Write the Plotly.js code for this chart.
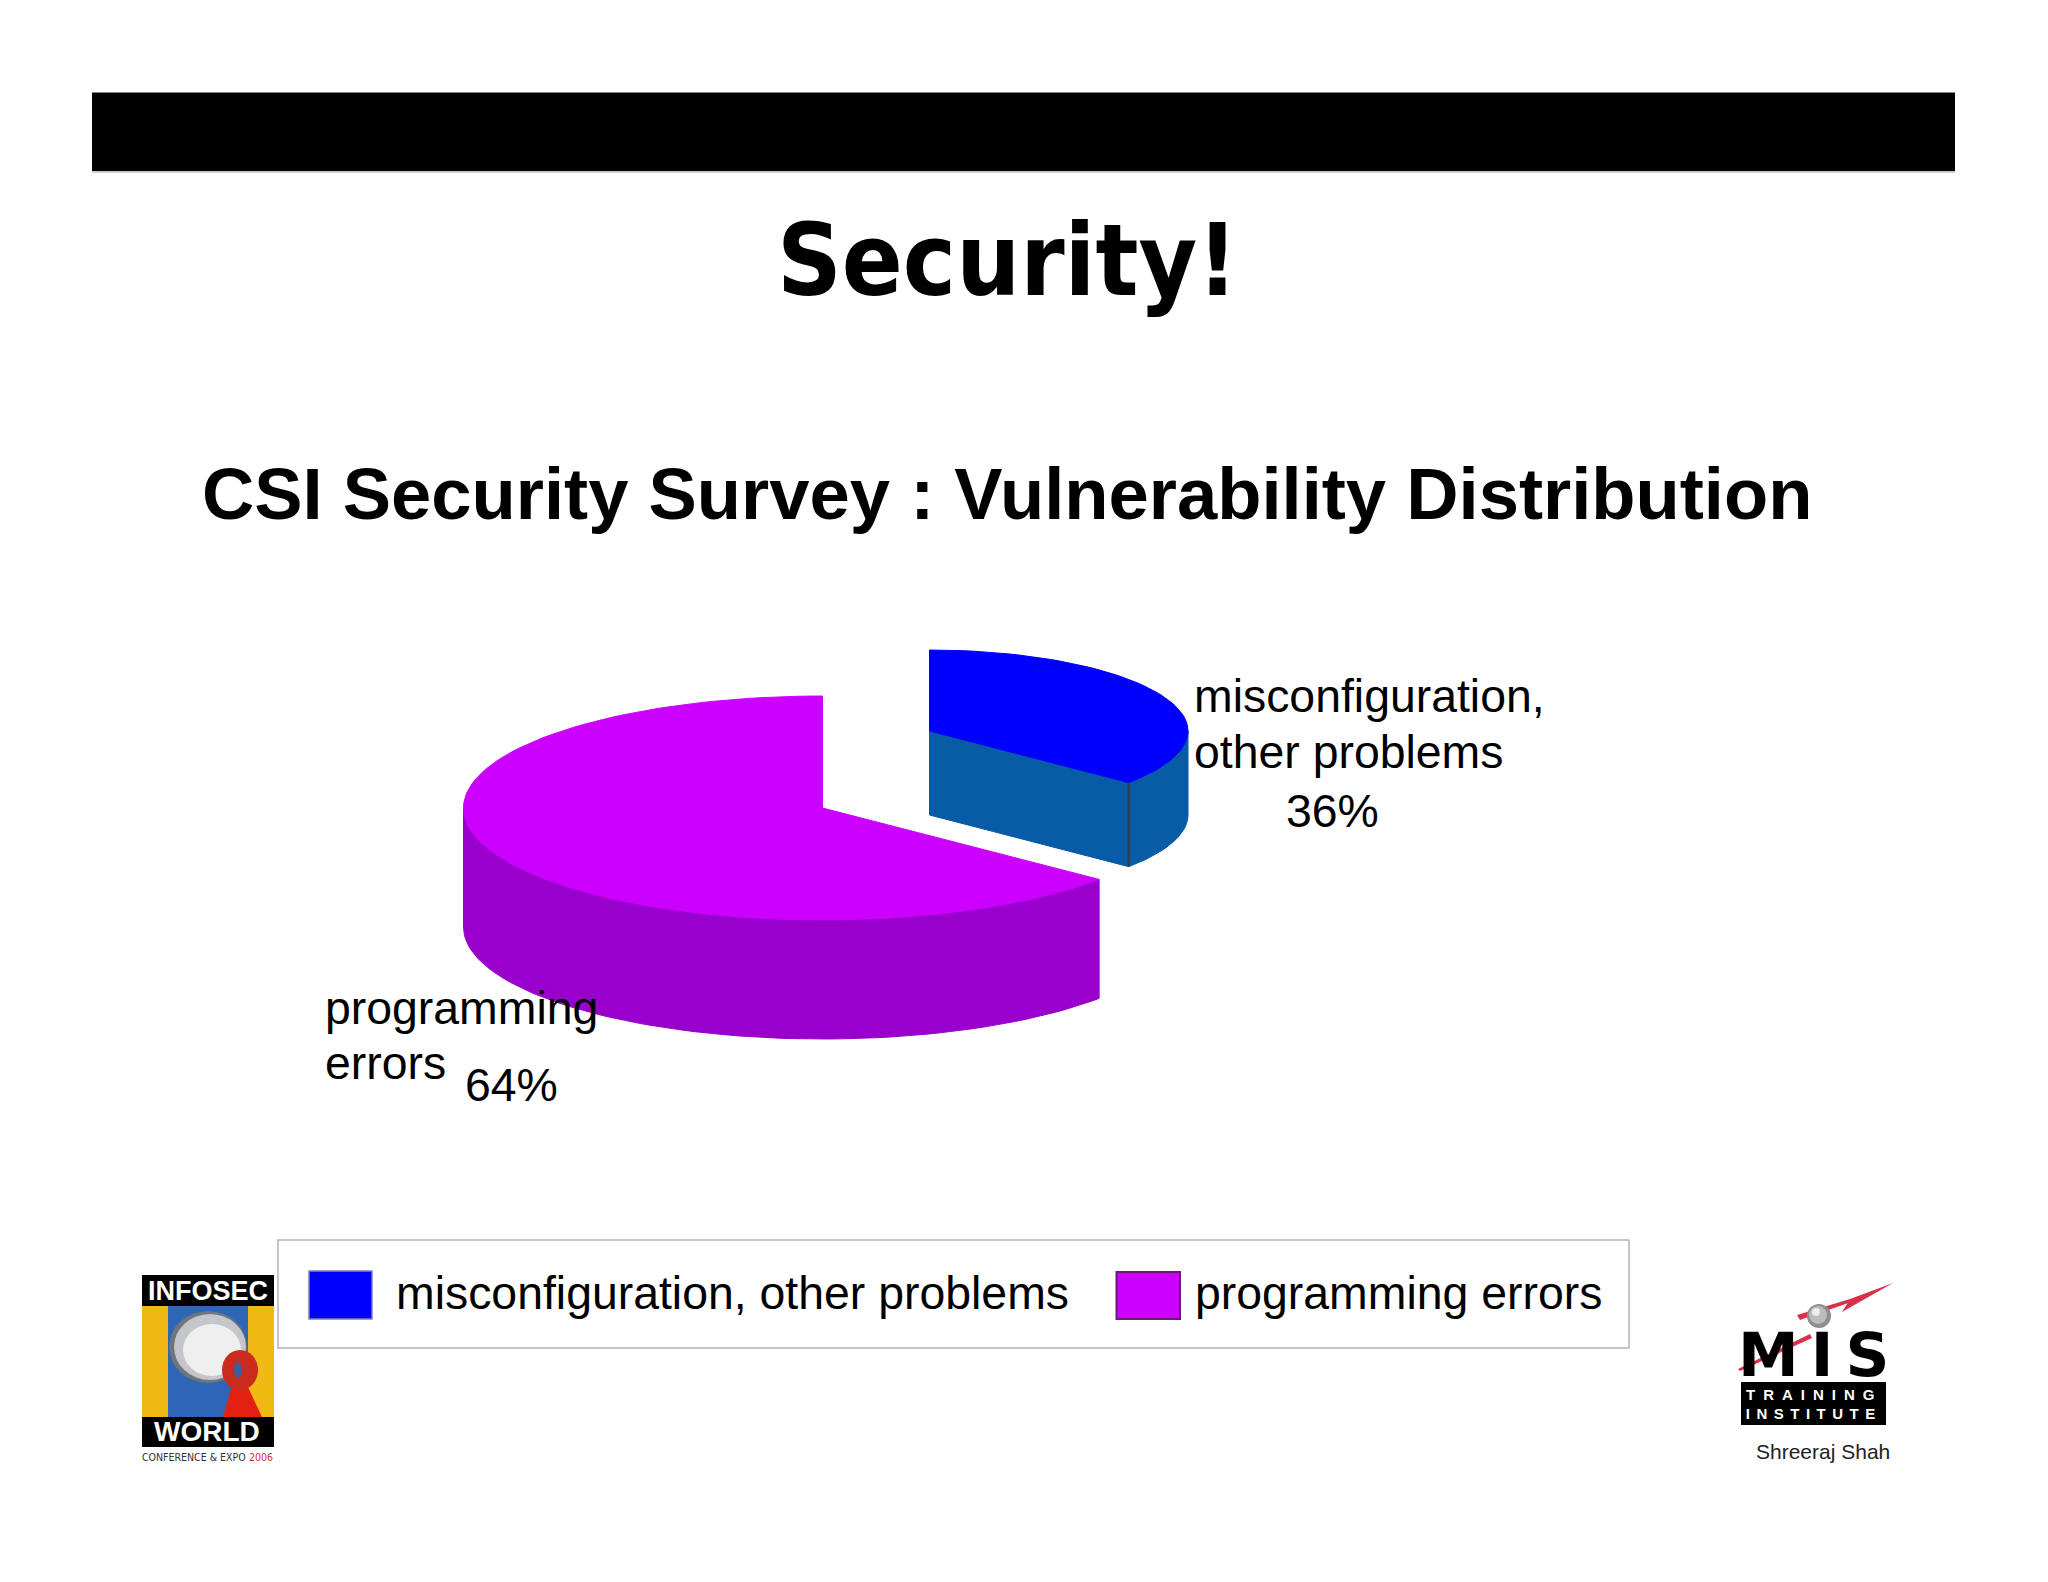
<!DOCTYPE html>
<html>
<head>
<meta charset="utf-8">
<script src="https://cdn.plot.ly/plotly-3.0.1.min.js"></script>
<style>html,body{margin:0;padding:0;background:#fff}#chart{width:2048px;height:1582px}</style>
</head>
<body>
<div id="chart"></div>
<script>
// ---- data ----
const categories = ["misconfiguration, other problems", "programming errors"];
const shares = [36, 64];
const shareLabels = ["36%", "64%"];
const topColors = ["#0000FF", "#CC00FF"];
const sideColors = ["#085CA6", "#9900CC"];
const slideTitle = "Security!";
const chartTitle = "CSI Security Survey : Vulnerability Distribution";

// ---- pie geometry (page pixels; axes run 1:1 with the page) ----
const blueDisc = {cx: 929.5, cy: 731, rx: 258.5, ry: 81, depth: 84};
const purpleDisc = {cx: 822.5, cy: 808, rx: 359, ry: 112, depth: 119};
const total = shares.reduce((a, b) => a + b, 0);
const splitDeg = 360 * shares[0] / total;

function pt(d, deg, drop) {
  const a = deg * Math.PI / 180;
  return [d.cx + d.rx * Math.sin(a), d.cy - d.ry * Math.cos(a) + (drop || 0)];
}
function arc(d, from, to, drop) {
  const out = [], n = Math.max(2, Math.ceil(Math.abs(to - from) / 2));
  for (let i = 0; i <= n; i++) out.push(pt(d, from + (to - from) * i / n, drop));
  return out;
}
function poly(points, color, name, lineColor) {
  const xs = points.map(p => p[0]).concat(points[0][0]);
  const ys = points.map(p => p[1]).concat(points[0][1]);
  return {type: "scatter", mode: "lines", x: xs, y: ys, fill: "toself", fillcolor: color, name: name,
    line: {color: lineColor || color, width: 1}, hoverinfo: "name", showlegend: false};
}
const tipOf = d => [d.cx, d.cy];
const tipLow = d => [d.cx, d.cy + d.depth];

const traces = [
  // programming errors: outer wall, then top
  poly(arc(purpleDisc, splitDeg, 270, 0).concat(arc(purpleDisc, 270, splitDeg, purpleDisc.depth)), sideColors[1], categories[1] + " side"),
  poly(arc(purpleDisc, splitDeg, 360, 0).concat([tipOf(purpleDisc)]), topColors[1], categories[1]),
  // misconfiguration: cut face, outer wall, top, edge between the faces
  poly([tipOf(blueDisc), pt(blueDisc, splitDeg, 0), pt(blueDisc, splitDeg, blueDisc.depth), tipLow(blueDisc)], sideColors[0], categories[0] + " cut face"),
  poly(arc(blueDisc, 90, splitDeg, 0).concat(arc(blueDisc, splitDeg, 90, blueDisc.depth)), sideColors[0], categories[0] + " side"),
  poly(arc(blueDisc, 0, splitDeg, 0).concat([tipOf(blueDisc)]), topColors[0], categories[0]),
  {type: "scatter", mode: "lines", x: [pt(blueDisc, splitDeg, 0)[0], pt(blueDisc, splitDeg, blueDisc.depth)[0]],
    y: [pt(blueDisc, splitDeg, 0)[1], pt(blueDisc, splitDeg, blueDisc.depth)[1]],
    line: {color: "#2f3a4a", width: 2}, hoverinfo: "skip", showlegend: false}
];

const rect = (x0, y0, x1, y1, fill, line, w) => ({type: "rect", x0, y0, x1, y1, fillcolor: fill, layer: "below",
  line: {color: line || fill, width: line ? (w || 1) : 0}});
const oval = (cx, cy, rx, ry, fill) => ({type: "circle", x0: cx - rx, x1: cx + rx, y0: cy - ry, y1: cy + ry,
  fillcolor: fill, layer: "below", line: {width: 0}});
const path = (d, fill) => ({type: "path", path: d, fillcolor: fill, layer: "below", line: {width: 0}});

const shapes = [
  // header band
  rect(92, 92.5, 1955, 171, "#000000"),
  {type: "line", x0: 92, x1: 1955, y0: 172, y1: 172, line: {color: "#bbbbbb", width: 1.5}, layer: "below"},
  // legend box and swatches
  rect(278, 1240, 1629, 1348, "#ffffff", "#b4b4b4", 1.5),
  rect(309, 1271, 372, 1319, topColors[0], "#7f7fb5", 1.5),
  rect(1116.5, 1272, 1180, 1319, topColors[1], "#6b1a7a", 2),
  // INFOSEC WORLD logo
  rect(142, 1275, 274, 1306, "#000000"),
  rect(142, 1306, 274, 1417, "#F0B913"),
  rect(168, 1306, 248, 1417, "#2F65B5"),
  oval(208, 1347, 39, 36, "#6f757f"),
  oval(210, 1347, 36, 33, "#c4c6cb"),
  oval(212, 1350, 29, 26, "#efefef"),
  path("M 232 1385 L 247 1385 L 262 1417 L 223 1417 Z", "#E32012"),
  oval(240, 1370, 18, 20, "#CB2A1E"),
  oval(238, 1370, 4, 8, "#3a5f9a"),
  rect(142, 1417, 274, 1447, "#000000"),
  // MIS logo
  path("M 1738 1369 L 1810 1334 L 1812 1338 L 1740 1371 Z", "#D9304A"),
  path("M 1797 1315 L 1850 1299 L 1851 1302 L 1800 1320 Z", "#D9304A"),
  path("M 1893 1283 L 1850 1299 L 1842 1312 Z", "#D9304A"),
  oval(1819, 1316, 12, 12, "#8e8e8e"),
  oval(1818, 1315, 9, 9, "#bcbcbc"),
  oval(1816, 1312, 4, 4, "#ececec"),
  rect(1741, 1382, 1886, 1425, "#000000")
];

const label = (text, x, y, size, opts) => Object.assign({
  text, x, y, xref: "x", yref: "y", xanchor: "left", yanchor: "middle", showarrow: false, borderpad: 0, borderwidth: 0,
  font: {family: "Liberation Sans, Arial, sans-serif", size, color: "#000000"}
}, opts || {});
const narrow = "DejaVu Sans Condensed, Liberation Sans, sans-serif";

const annotations = [
  label(slideTitle, 1007, 260, 100, {xanchor: "center",
    font: {family: "DejaVu Sans Condensed, DejaVu Sans, sans-serif", size: 100, color: "#000000", weight: 700}}),
  label(chartTitle, 1007, 493, 72.4, {xanchor: "center",
    font: {family: "Liberation Sans, Arial, sans-serif", size: 72.4, color: "#000000", weight: 700}}),
  // slice labels
  label("misconfiguration,", 1194, 695.5, 46.4),
  label("other problems", 1194, 751.5, 46.4),
  label(shareLabels[0], 1286, 810.5, 46.4),
  label("programming", 325, 1007.5, 46.4),
  label("errors", 325, 1062.5, 46.4),
  label(shareLabels[1], 465, 1084.5, 46.4),
  // legend text
  label(categories[0], 396, 1292.5, 46.4),
  label(categories[1], 1194.5, 1292.5, 46.4),
  // logos
  label("INFOSEC", 208, 1291, 27, {xanchor: "center", font: {family: "Liberation Sans, sans-serif", size: 27, color: "#ffffff", weight: 700}}),
  label("WORLD", 207, 1431, 28, {xanchor: "center", font: {family: "Liberation Sans, sans-serif", size: 28, color: "#ffffff", weight: 700}}),
  label("CONFERENCE & EXPO", 142, 1457, 10.5, {font: {family: narrow, size: 10.5, color: "#333333"}}),
  label("2006", 249, 1457, 10.5, {font: {family: narrow, size: 10.5, color: "#D0303A"}}),
  label("MIS", 1819, 1354, 61, {xanchor: "center", font: {family: "DejaVu Sans, sans-serif", size: 61, color: "#000000", weight: 700}}),
  label("TRAINING", 1814, 1394, 15, {xanchor: "center", font: {family: "Liberation Sans, sans-serif", size: 15, color: "#ffffff", weight: 700}}),
  label("INSTITUTE", 1814, 1413, 15, {xanchor: "center", font: {family: "Liberation Sans, sans-serif", size: 15, color: "#ffffff", weight: 700}}),
  label("Shreeraj Shah", 1823, 1451, 21, {xanchor: "center", font: {family: "Liberation Sans, sans-serif", size: 21, color: "#222222"}})
];

const layout = {
  width: 2048, height: 1582, margin: {l: 0, r: 0, t: 0, b: 0},
  paper_bgcolor: "#ffffff", plot_bgcolor: "#ffffff", showlegend: false,
  xaxis: {range: [0, 2048], visible: false, fixedrange: true},
  yaxis: {range: [1582, 0], visible: false, fixedrange: true},
  shapes, annotations
};

const spacing = {"MIS": "12px", "TRAINING": "8px", "INSTITUTE": "6.5px"};
Plotly.newPlot("chart", traces, layout, {displayModeBar: false, staticPlot: true}).then(() => {
  document.querySelectorAll(".annotation-text").forEach(t => {
    const s = spacing[t.textContent];
    if (s) t.style.letterSpacing = s;
  });
});
</script>
</body>
</html>
